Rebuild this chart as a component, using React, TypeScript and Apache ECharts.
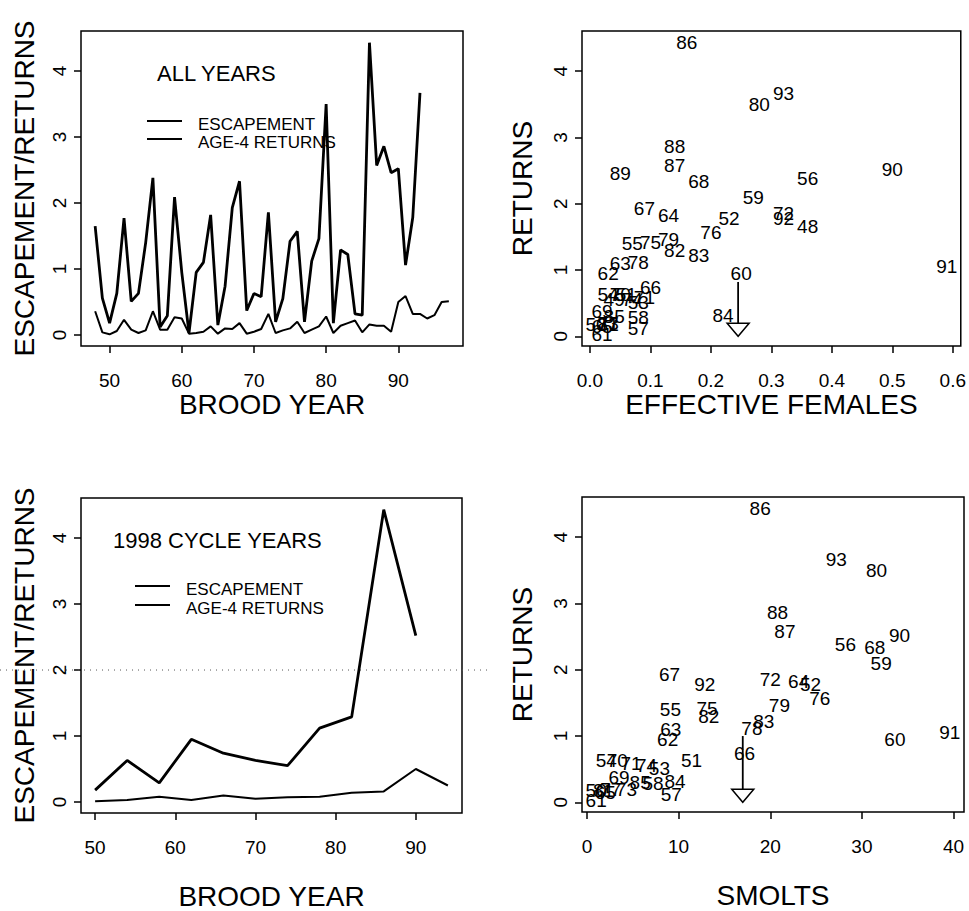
import React, { useEffect, useRef } from "react";
import * as echarts from "echarts";

// Brood years (19xx)
const years = [
  48, 49, 50, 51, 52, 53, 54, 55, 56, 57, 58, 59, 60, 61, 62, 63, 64, 65, 66, 67,
  68, 69, 70, 71, 72, 73, 74, 75, 76, 77, 78, 79, 80, 81, 82, 83, 84, 85, 86, 87,
  88, 89, 90, 91, 92, 93, 94, 95, 96, 97,
];
// Age-4 returns (thousands)
const returns = [
  1.65, 0.56, 0.18, 0.63, 1.77, 0.51, 0.63, 1.4, 2.38, 0.12, 0.29, 2.09, 0.95, 0.03, 0.95, 1.1, 1.82, 0.15, 0.74, 1.93,
  2.33, 0.37, 0.63, 0.58, 1.86, 0.2, 0.55, 1.42, 1.57, 0.2, 1.12, 1.46, 3.5, 0.18, 1.29, 1.22, 0.32, 0.3, 4.43, 2.57,
  2.86, 2.46, 2.52, 1.06, 1.78, 3.67, null, null, null, null,
];
// Escapement / effective females
const escapement = [
  0.36, 0.04, 0.01, 0.06, 0.23, 0.08, 0.03, 0.07, 0.36, 0.08, 0.08, 0.27, 0.25, 0.02, 0.03, 0.05, 0.13, 0.02, 0.1, 0.09,
  0.18, 0.02, 0.05, 0.09, 0.32, 0.03, 0.07, 0.1, 0.2, 0.03, 0.08, 0.13, 0.28, 0.03, 0.14, 0.18, 0.22, 0.04, 0.16, 0.14,
  0.14, 0.05, 0.5, 0.59, 0.32, 0.32, 0.25, 0.3, 0.5, 0.51,
];
// Smolts
const smolts = [
  null, null, 1.0, 11.4, 24.4, 7.9, 2.1, 9.1, 28.2, 9.2, 7.2, 32.1, 33.6, 1.0, 8.8, 9.15, 23.1, 2.0, 17.2, 9.0,
  31.4, 3.5, 3.3, 4.8, 20.0, 4.3, 6.5, 13.1, 25.4, 2.6, 18.0, 21.0, 31.6, 1.8, 13.3, 19.3, 9.6, 5.8, 18.9, 21.6,
  20.8, null, 34.1, 39.6, 12.85, 27.2, null, null, null, null,
];

const yTicks = [0, 1, 2, 3, 4];
const yearTicks = [50, 60, 70, 80, 90];
const femaleTicks = [0, 0.1, 0.2, 0.3, 0.4, 0.5, 0.6];
const smoltTicks = [0, 10, 20, 30, 40];

const cycleRefYear = 98; // 1998 cycle
const refLineValue = 2;
const arrowFemales = [[0.245, 0.82, 0.0]];
const arrowSmolts = [[17, 1.0, 0.0]];

const FONT = "Liberation Sans, Arial, Helvetica, sans-serif";

function rRange(vals: number[]): [number, number] {
  const mn = Math.min(...vals);
  const mx = Math.max(...vals);
  const d = (mx - mn) * 0.04;
  return [mn - d, mx + d];
}

export default function App() {
  const ref = useRef<HTMLDivElement>(null);

  useEffect(() => {
    if (!ref.current) return;
    const chart = echarts.init(ref.current, undefined, { renderer: "svg" });

    const retLine = years.map((y, i) => [y, returns[i]]).filter((d) => d[1] != null) as number[][];
    const escLine = years.map((y, i) => [y, escapement[i]]).filter((d) => d[1] != null) as number[][];
    const isCycle = (y: number) => (cycleRefYear - y) % 4 === 0;
    const retCycle = retLine.filter((d) => isCycle(d[0]));
    const escCycle = escLine.filter((d) => isCycle(d[0]));
    const femPts = years
      .map((y, i) => [escapement[i], returns[i], y])
      .filter((d) => d[0] != null && d[1] != null) as number[][];
    const smoltPts = years
      .map((y, i) => [smolts[i], returns[i], y])
      .filter((d) => d[0] != null && d[1] != null) as number[][];

    const tlX = rRange(years);
    const tlY = rRange([...retLine.map((d) => d[1]), ...escLine.map((d) => d[1])]);
    const blX = rRange(escCycle.map((d) => d[0]));
    const blY = rRange([...retCycle.map((d) => d[1]), ...escCycle.map((d) => d[1])]);
    const trX = rRange(femPts.map((d) => d[0]));
    const trY = rRange(femPts.map((d) => d[1]));
    const brX = rRange(smoltPts.map((d) => d[0]));
    const brY = rRange(smoltPts.map((d) => d[1]));

    const xAxis = (gridIndex: number, range: number[], ticks: number[], name: string, nameGap: number, fmt?: (v: number) => string) => ({
      type: "value",
      gridIndex,
      min: range[0],
      max: range[1],
      axisLine: { show: false, onZero: false },
      splitLine: { show: false },
      axisTick: { show: true, inside: false, length: 7, customValues: ticks, lineStyle: { color: "#000", width: 1.5 } },
      axisLabel: {
        customValues: ticks,
        formatter: fmt || ((v: number) => String(v)),
        fontSize: 19,
        color: "#000",
        fontFamily: FONT,
        margin: 25,
      },
      name,
      nameLocation: "middle",
      nameGap,
      nameTextStyle: { fontSize: 28, color: "#000", fontFamily: FONT },
    });
    const yAxis = (gridIndex: number, range: number[], name: string, nameGap: number) => ({
      type: "value",
      gridIndex,
      min: range[0],
      max: range[1],
      axisLine: { show: false, onZero: false },
      splitLine: { show: false },
      axisTick: { show: true, inside: false, length: 7, customValues: yTicks, lineStyle: { color: "#000", width: 1.5 } },
      axisLabel: {
        customValues: yTicks,
        rotate: 90,
        fontSize: 19,
        color: "#000",
        fontFamily: FONT,
        margin: 12,
      },
      name,
      nameLocation: "middle",
      nameGap,
      nameRotate: 90,
      nameTextStyle: { fontSize: 28, color: "#000", fontFamily: FONT },
    });

    const labelSeries = (xi: number, data: number[][]) => ({
      type: "scatter",
      xAxisIndex: xi,
      yAxisIndex: xi,
      data,
      symbolSize: 0.1,
      itemStyle: { color: "rgba(0,0,0,0)", opacity: 1 },
      label: {
        show: true,
        position: "inside",
        formatter: (p: any) => String(p.value[2]),
        fontSize: 19,
        color: "#000",
        opacity: 1,
        fontFamily: FONT,
      },
      encode: { x: 0, y: 1 },
    });

    const arrowSeries = (xi: number, data: number[][]) => ({
      type: "custom",
      xAxisIndex: xi,
      yAxisIndex: xi,
      data,
      encode: { x: 0, y: [1, 2] },
      renderItem: (_p: any, api: any) => {
        const top = api.coord([api.value(0), api.value(1)]);
        const tip = api.coord([api.value(0), api.value(2)]);
        const h = 13;
        const w = 11;
        return {
          type: "group",
          children: [
            { type: "line", shape: { x1: top[0], y1: top[1], x2: tip[0], y2: tip[1] - h }, style: { stroke: "#000", lineWidth: 1.8 } },
            {
              type: "polygon",
              shape: { points: [[tip[0] - w, tip[1] - h], [tip[0] + w, tip[1] - h], [tip[0], tip[1]]] },
              style: { fill: "#fff", stroke: "#000", lineWidth: 1.5 },
            },
          ],
        };
      },
    });

    const lineStyle = (w: number) => ({ color: "#000", width: w });

    const option: any = {
      animation: false,
      backgroundColor: "#fff",
      grid: [
        { left: 81, top: 31, width: 382, height: 315 },
        { left: 582, top: 31, width: 382, height: 315 },
        { left: 81, top: 498, width: 381, height: 315 },
        { left: 582, top: 497, width: 382, height: 315 },
      ].map((g) => ({ ...g, show: true, borderColor: "#000", borderWidth: 1.5, backgroundColor: "transparent" })),
      xAxis: [
        xAxis(0, tlX, yearTicks, "BROOD YEAR", 43),
        xAxis(1, trX, femaleTicks, "EFFECTIVE FEMALES", 43, (v) => v.toFixed(1)),
        xAxis(2, blX, yearTicks, "BROOD YEAR", 69),
        xAxis(3, brX, smoltTicks, "SMOLTS", 69),
      ],
      yAxis: [
        yAxis(0, tlY, "ESCAPEMENT/RETURNS", 43),
        yAxis(1, trY, "RETURNS", 46),
        yAxis(2, blY, "ESCAPEMENT/RETURNS", 43),
        yAxis(3, brY, "RETURNS", 46),
      ],
      series: [
        { type: "line", name: "AGE-4 RETURNS", xAxisIndex: 0, yAxisIndex: 0, data: retLine, symbol: "none", lineStyle: lineStyle(2.8) },
        { type: "line", name: "ESCAPEMENT", xAxisIndex: 0, yAxisIndex: 0, data: escLine, symbol: "none", lineStyle: lineStyle(2) },
        { type: "line", name: "AGE-4 RETURNS", xAxisIndex: 2, yAxisIndex: 2, data: retCycle, symbol: "none", lineStyle: lineStyle(2.8) },
        { type: "line", name: "ESCAPEMENT", xAxisIndex: 2, yAxisIndex: 2, data: escCycle, symbol: "none", lineStyle: lineStyle(2) },
        labelSeries(1, femPts),
        arrowSeries(1, arrowFemales),
        labelSeries(3, smoltPts),
        arrowSeries(3, arrowSmolts),
        {
          type: "custom",
          xAxisIndex: 2,
          yAxisIndex: 2,
          clip: false,
          data: [[blX[0], refLineValue]],
          encode: { x: 0, y: 1 },
          renderItem: (_p: any, api: any) => {
            const y = api.coord([api.value(0), api.value(1)])[1];
            return {
              type: "line",
              shape: { x1: 0, y1: y, x2: 488, y2: y },
              style: { stroke: "#555", lineWidth: 1, lineDash: [1, 5] },
            };
          },
        },
      ],
      graphic: [
        { type: "text", left: 217 - 60, top: 62, style: { text: "ALL YEARS", fontSize: 22, fontFamily: FONT, fill: "#000" } },
        { type: "line", shape: { x1: 147, y1: 121, x2: 182, y2: 121 }, style: { stroke: "#000", lineWidth: 2 } },
        { type: "line", shape: { x1: 147, y1: 139, x2: 182, y2: 139 }, style: { stroke: "#000", lineWidth: 2 } },
        { type: "text", x: 198, y: 124, style: { text: "ESCAPEMENT", fontSize: 17, fontFamily: FONT, fill: "#000", verticalAlign: "middle" } },
        { type: "text", x: 198, y: 142, style: { text: "AGE-4 RETURNS", fontSize: 17, fontFamily: FONT, fill: "#000", verticalAlign: "middle" } },
        { type: "text", x: 113, y: 540, style: { text: "1998 CYCLE YEARS", fontSize: 22, fontFamily: FONT, fill: "#000", verticalAlign: "middle" } },
        { type: "line", shape: { x1: 135, y1: 586, x2: 170, y2: 586 }, style: { stroke: "#000", lineWidth: 2 } },
        { type: "line", shape: { x1: 135, y1: 605, x2: 170, y2: 605 }, style: { stroke: "#000", lineWidth: 2 } },
        { type: "text", x: 186, y: 589, style: { text: "ESCAPEMENT", fontSize: 17, fontFamily: FONT, fill: "#000", verticalAlign: "middle" } },
        { type: "text", x: 186, y: 608, style: { text: "AGE-4 RETURNS", fontSize: 17, fontFamily: FONT, fill: "#000", verticalAlign: "middle" } },
      ],
    };

    chart.setOption(option);
    return () => chart.dispose();
  }, []);

  return <div ref={ref} style={{ position: "absolute", left: 0, top: 0, width: 969, height: 911 }} />;
}
